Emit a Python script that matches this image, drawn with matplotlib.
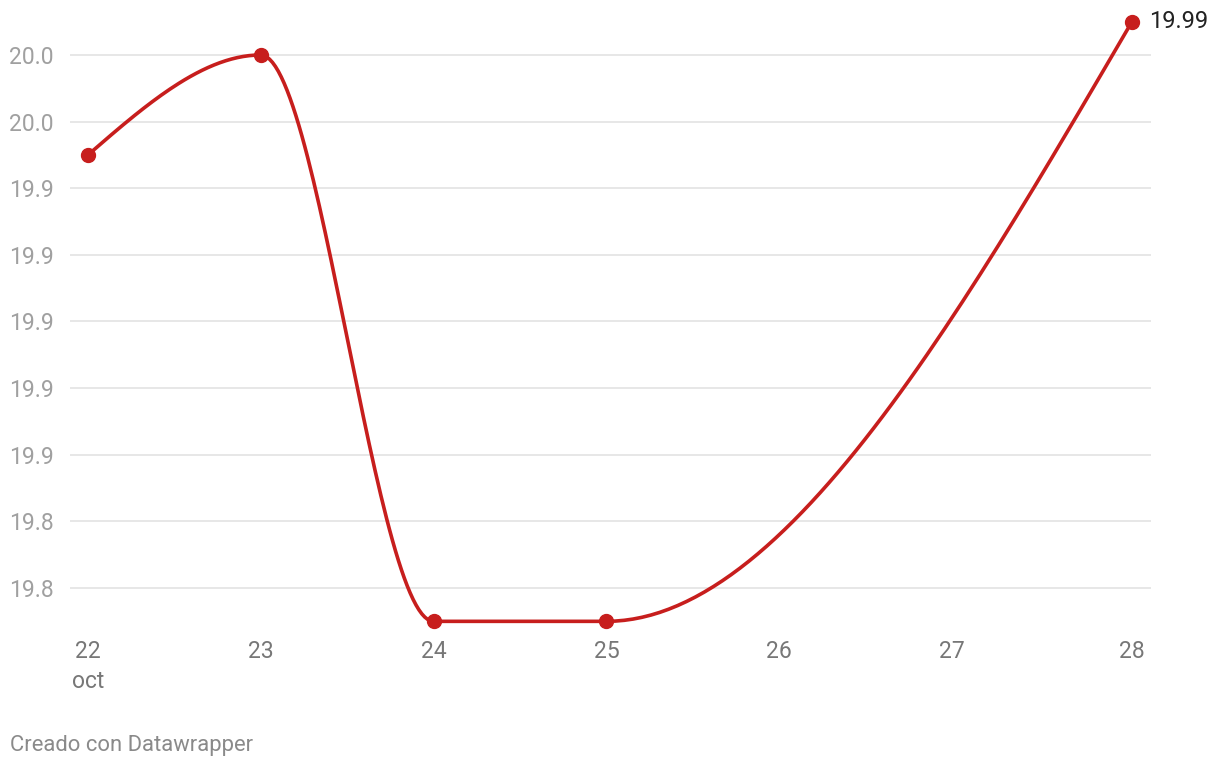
import numpy as np
import pandas as pd
import matplotlib
matplotlib.use('Agg')
import matplotlib.pyplot as plt

plt.rcParams['font.family'] = ['Roboto', 'DejaVu Sans']

dates = ['2024-10-22', '2024-10-23', '2024-10-24', '2024-10-25', '2024-10-28']
values = [19.95, 19.98, 19.81, 19.81, 19.99]
tick_dates = ['2024-10-22', '2024-10-23', '2024-10-24', '2024-10-25',
              '2024-10-26', '2024-10-27', '2024-10-28']
tick_labels = ['22', '23', '24', '25', '26', '27', '28']
y_ticks = [19.82, 19.84, 19.86, 19.88, 19.90, 19.92, 19.94, 19.96, 19.98]

RED = '#c71e1d'


def to_days(ds):
    # local midnight in Madrid -> days since the first date (keeps the 25h DST day)
    t = pd.to_datetime(ds).tz_localize('Europe/Madrid').tz_convert('UTC')
    t0 = pd.Timestamp(dates[0]).tz_localize('Europe/Madrid').tz_convert('UTC')
    return np.array((t - t0).total_seconds() / 86400.0)


def monotone_x(xs, ys, n=60):
    # same curve as d3.curveMonotoneX, drawn as cubic beziers
    xs = np.asarray(xs, float)
    ys = np.asarray(ys, float)
    h = np.diff(xs)
    s = np.diff(ys) / h
    t = np.zeros(len(xs))
    for i in range(1, len(xs) - 1):
        p = (s[i - 1] * h[i] + s[i] * h[i - 1]) / (h[i - 1] + h[i])
        t[i] = (np.sign(s[i - 1]) + np.sign(s[i])) * min(abs(s[i - 1]), abs(s[i]), 0.5 * abs(p))
    t[0] = (3 * s[0] - t[1]) / 2
    t[-1] = (3 * s[-1] - t[-2]) / 2
    px, py = [], []
    u = np.linspace(0, 1, n)
    for i in range(len(xs) - 1):
        dx = h[i] / 3
        P = [(xs[i], ys[i]), (xs[i] + dx, ys[i] + dx * t[i]),
             (xs[i + 1] - dx, ys[i + 1] - dx * t[i + 1]), (xs[i + 1], ys[i + 1])]
        b = [(1 - u) ** 3, 3 * u * (1 - u) ** 2, 3 * u ** 2 * (1 - u), u ** 3]
        px.extend(sum(b[k] * P[k][0] for k in range(4)))
        py.extend(sum(b[k] * P[k][1] for k in range(4)))
    return px, py


x = to_days(dates)
xt = to_days(tick_dates)

fig = plt.figure(figsize=(12.2, 7.68), dpi=100)
ax = fig.add_axes([70 / 1220, 1 - 630 / 768, 1081 / 1220, 620 / 768])

ax.set_xlim(-0.104, x[-1] + 0.11)
ax.set_ylim(19.8074, 19.9935)

for yt in y_ticks:
    ax.axhline(yt, color='#e3e3e3', lw=1.2, zorder=0)

cx, cy = monotone_x(x, values)
ax.plot(cx, cy, color=RED, lw=2.6, solid_capstyle='round', zorder=3)
ax.plot(x, values, 'o', color=RED, ms=10, zorder=4)

ax.text(x[-1] + 0.1, values[-1], '%.2f' % values[-1], fontsize=17,
        color='#222222', va='center', ha='left')

ax.set_yticks(y_ticks)
ax.set_yticklabels(['%.1f' % v for v in y_ticks])
ax.set_xticks(xt)
ax.set_xticklabels(tick_labels)
ax.tick_params(axis='y', length=0, pad=12, labelsize=16.5, labelcolor='#a0a0a0')
ax.tick_params(axis='x', length=0, pad=7, labelsize=16.5, labelcolor='#777777')
ax.text(xt[0], -0.083, 'oct', transform=ax.get_xaxis_transform(), ha='center',
        va='center', fontsize=16.5, color='#777777')

for sp in ax.spines.values():
    sp.set_visible(False)

fig.text(10 / 1220, 1 - 745 / 768, 'Creado con Datawrapper', fontsize=15.8,
         color='#8a8a8a', ha='left', va='center')

plt.savefig('out.png', dpi=100)
